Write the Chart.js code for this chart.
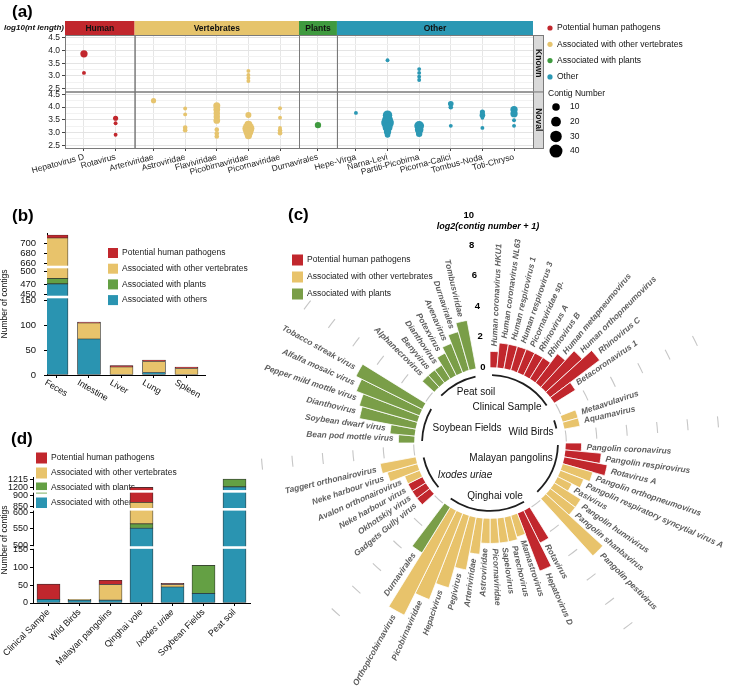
<!DOCTYPE html>
<html>
<head>
<meta charset="utf-8">
<title>Virome overview</title>
<script src="https://cdn.jsdelivr.net/npm/chart.js@4.4.1/dist/chart.umd.min.js"></script>
<style>
  html, body { margin: 0; padding: 0; background: #fff; }
  body { width: 732px; height: 689px; position: relative; overflow: hidden; font-family: "Liberation Sans", Arial, sans-serif; }
  canvas { position: absolute; }
  .tag { position: absolute; font-weight: bold; font-size: 17px; color: #000; line-height: 20px; }
</style>
</head>
<body>
<canvas id="chartA" width="732" height="182" style="left:0px;top:0px"></canvas>
<canvas id="chartB" width="260" height="228" style="left:0px;top:175px"></canvas>
<canvas id="chartC" width="482" height="509" style="left:250px;top:180px"></canvas>
<canvas id="chartD" width="270" height="254" style="left:0px;top:435px"></canvas>
<div class="tag" style="left:12px;top:2px">(a)</div>
<div class="tag" style="left:12px;top:206px">(b)</div>
<div class="tag" style="left:288px;top:205px">(c)</div>
<div class="tag" style="left:11px;top:429px">(d)</div>
<script>
Chart.defaults.font.family = '"Liberation Sans", Arial, sans-serif';
Chart.defaults.color = '#222';

const RED = '#c1272d', YELLOW = '#e8c36b', GREEN = '#64a044', BLUE = '#2a94b1';
const GREEN_C = '#7a9e48', YELLOW_A = '#e6c46e', GREEN_A = '#3f9a3f', BLUE_A = '#2b98b4';
const HOST = { human: RED, vert: YELLOW, plant: GREEN_C };
const legendNames = ['Potential human pathogens', 'Associated with other vertebrates', 'Associated with plants', 'Associated with others'];

// ---------- (a) contig length by taxon ----------
const aFacets = ['Human', 'Vertebrates', 'Plants', 'Other'];
const aFacetCategories = [
  ['Hepatovirus D', 'Rotavirus'],
  ['Arteriviridae', 'Astroviridae', 'Flaviviridae', 'Picobirnaviridae', 'Picornaviridae'],
  ['Durnavirales'],
  ['Hepe-Virga', 'Narna-Levi', 'Partiti-Picobirna', 'Picorna-Calici', 'Tombus-Noda', 'Toti-Chryso']
];
const aRows = ['Known', 'Noval'];
const aYTicks = [2.5, 2.75, 3, 3.25, 3.5, 3.75, 4, 4.25, 4.5];
const aSizeLegend = [10, 20, 30, 40];
const aColorLegend = ['Potential human pathogens', 'Associated with other vertebrates', 'Associated with plants', 'Other'];

// [category, log10(nt length), contig number]
const humanKnown = [['Hepatovirus D', 3.87, 9], ['Hepatovirus D', 3.12, 1]];
const humanNoval = [['Rotavirus', 3.56, 3], ['Rotavirus', 3.36, 1], ['Rotavirus', 2.91, 1]];
const vertKnown = [['Picobirnaviridae', 3.2, 1], ['Picobirnaviridae', 3.04, 1], ['Picobirnaviridae', 2.92, 1], ['Picobirnaviridae', 2.8, 1]];
const vertNoval = [
  ['Arteriviridae', 4.25, 3],
  ['Astroviridae', 3.94, 1], ['Astroviridae', 3.71, 1], ['Astroviridae', 3.19, 2], ['Astroviridae', 3.09, 2],
  ['Flaviviridae', 4.05, 8], ['Flaviviridae', 3.9, 7], ['Flaviviridae', 3.76, 6], ['Flaviviridae', 3.62, 6], ['Flaviviridae', 3.47, 7],
  ['Flaviviridae', 3.11, 2], ['Flaviviridae', 2.96, 2], ['Flaviviridae', 2.84, 2],
  ['Picobirnaviridae', 3.69, 5], ['Picobirnaviridae', 3.3, 12], ['Picobirnaviridae', 3.16, 33], ['Picobirnaviridae', 3.02, 20], ['Picobirnaviridae', 2.88, 9],
  ['Picornaviridae', 3.95, 1], ['Picornaviridae', 3.58, 1], ['Picornaviridae', 3.18, 1], ['Picornaviridae', 3.08, 2], ['Picornaviridae', 2.97, 2]
];
const plantNoval = [['Durnavirales', 3.29, 6]];
const otherKnown = [['Narna-Levi', 3.62, 1], ['Partiti-Picobirna', 3.27, 1], ['Partiti-Picobirna', 3.12, 1], ['Partiti-Picobirna', 2.97, 1], ['Partiti-Picobirna', 2.84, 1]];
const otherNoval = [
  ['Hepe-Virga', 3.77, 1],
  ['Narna-Levi', 3.68, 18], ['Narna-Levi', 3.5, 25], ['Narna-Levi', 3.37, 37], ['Narna-Levi', 3.2, 20], ['Narna-Levi', 3.03, 9], ['Narna-Levi', 2.9, 4],
  ['Partiti-Picobirna', 3.26, 20], ['Partiti-Picobirna', 3.11, 14], ['Partiti-Picobirna', 2.95, 6],
  ['Picorna-Calici', 4.13, 4], ['Picorna-Calici', 3.99, 2], ['Picorna-Calici', 3.26, 1],
  ['Tombus-Noda', 3.8, 3], ['Tombus-Noda', 3.68, 4], ['Tombus-Noda', 3.58, 1], ['Tombus-Noda', 3.18, 1],
  ['Toti-Chryso', 3.9, 9], ['Toti-Chryso', 3.74, 9], ['Toti-Chryso', 3.48, 1], ['Toti-Chryso', 3.26, 1]
];

// ---------- (b) contigs per tissue ----------
const bSites = ['Feces', 'Intestine', 'Liver', 'Lung', 'Spleen'];
const bOthers = [472, 72, 0, 5, 0];
const bPlants = [12, 0, 0, 0, 0];
const bVertebrates = [226, 32, 16, 22, 13];
const bHuman = [6, 2, 3, 3, 3];
const bTicks = [0, 50, 100, 150, 450, 470, 500, 660, 680, 700];

// ---------- (d) contigs per sample ----------
const dSites = ['Clinical Sample', 'Wild Birds', 'Malayan pangolins', 'Qinghai vole', 'Ixodes uriae', 'Soybean Fields', 'Peat soil'];
const dOthers = [10, 8, 8, 552, 45, 27, 1201];
const dPlants = [0, 0, 0, 13, 0, 79, 15];
const dVertebrates = [0, 2, 44, 303, 7, 0, 0];
const dHuman = [43, 0, 12, 34, 3, 0, 0];
const dTicks = [0, 50, 100, 150, 500, 550, 600, 850, 900, 1200, 1215];

// ---------- (c) log2(contig number + 1) per virus ----------
const cGroupNames = ['Clinical Sample', 'Wild Birds', 'Malayan pangolins', 'Qinghai vole', 'Ixodes uriae', 'Soybean Fields', 'Peat soil'];
const clinicalBars = [
  ['Human coronavirus HKU1', 1.0, 'human'], ['Human coronavirus NL63', 1.58, 'human'], ['Human respirovirus 1', 1.58, 'human'],
  ['Human respirovirus 3', 1.58, 'human'], ['Picornaviridae sp.', 1.58, 'human'], ['Rhinovirus A', 1.58, 'human'],
  ['Rhinovirus B', 1.58, 'human'], ['Human metapneumovirus', 2.32, 'human'], ['Human orthopneumovirus', 3.17, 'human'],
  ['Rhinovirus C', 4.0, 'human'], ['Betacoronavirus 1', 1.58, 'human']
];
const wildBirdBars = [['Metaavulavirus', 1.0, 'vert'], ['Aquamavirus', 1.0, 'vert']];
const pangolinBars = [
  ['Pangolin coronavirus', 1.0, 'human'], ['Pangolin respirovirus', 2.32, 'human'], ['Rotavirus A', 2.81, 'human'],
  ['Pangolin orthopneumovirus', 2.0, 'vert'], ['Pangolin respiratory syncytial virus A', 1.58, 'vert'], ['Pasivirus', 1.0, 'vert'],
  ['Pangolin hunnivirus', 2.0, 'vert'], ['Pangolin shanbavirus', 2.0, 'vert'], ['Pangolin pestivirus', 5.0, 'vert']
];
const qinghaiBars = [
  ['Rotavirus', 2.32, 'human'], ['Hepatovirus D', 4.0, 'human'], ['Mamastrovirus', 1.4, 'vert'], ['Parechovirus', 1.58, 'vert'],
  ['Sapelovirus', 1.58, 'vert'], ['Picornaviridae', 1.58, 'vert'], ['Astroviridae', 1.58, 'vert'], ['Arteriviridae', 2.32, 'vert'],
  ['Pegivirus', 3.46, 'vert'], ['Hepacivirus', 4.86, 'vert'], ['Picobirnaviridae', 6.0, 'vert'], ['Orthopicobirnavirus', 7.6, 'vert'],
  ['Durnavirales', 3.46, 'plant']
];
const ixodesBars = [
  ['Gadgets Gully virus', 1.0, 'human'], ['Okhotskiy virus', 1.0, 'human'], ['Neke harbour virus', 1.0, 'human'],
  ['Avalon orthonairovirus', 1.0, 'vert'], ['Neke harbour virus', 2.0, 'vert'], ['Taggert orthonairovirus', 2.32, 'vert']
];
const soybeanBars = [
  ['Bean pod mottle virus', 1.0, 'plant'], ['Soybean dwarf virus', 1.58, 'plant'], ['Dianthovirus', 3.7, 'plant'],
  ['Pepper mild mottle virus', 3.9, 'plant'], ['Alfalfa mosaic virus', 4.39, 'plant'], ['Tobacco streak virus', 4.81, 'plant']
];
const peatBars = [
  ['Alphanecrovirus', 1.0, 'plant'], ['Benyvirus', 1.0, 'plant'], ['Dianthovirus', 1.0, 'plant'], ['Potexvirus', 1.58, 'plant'],
  ['Avenavirus', 2.0, 'plant'], ['Durnavirales', 2.58, 'plant'], ['Tombusviridae', 3.17, 'plant']
];
const cTicks = [0, 2, 4, 6, 8, 10];

// ================= helpers =================
const sizeOf = n => 1.1 + 0.85 * Math.sqrt(n);

// x positions for the faceted panel (ggplot-like discrete expansion of 0.6)
const aX = {};
const aTickList = [];
const aBounds = [0];
{
  let cursor = 0;
  aFacetCategories.forEach(cats => {
    cats.forEach((c, i) => { aX[c] = cursor + 0.6 + i; aTickList.push(c); });
    cursor += cats.length + 0.2;
    aBounds.push(cursor);
  });
}

// maps a value to a compressed axis with breaks
function breakScale(segs, gaps) {
  return v => {
    let off = 0;
    for (let i = 0; i < segs.length; i++) {
      const [lo, hi, k] = segs[i];
      if (v <= hi || i === segs.length - 1) return off + (Math.max(v, lo) - lo) * k;
      off += (hi - lo) * k + gaps[i];
    }
  };
}

function stackedBars(series, colors, f, asXY) {
  const base = series[0].map(() => 0);
  return series.map((vals, si) => {
    const data = [];
    vals.forEach((v, i) => {
      const lo = base[i];
      base[i] += v;
      const y = v > 0 ? [f(lo), f(lo + v)] : null;
      if (asXY) { if (y) data.push({ x: i, y: y }); } else data.push(y);
    });
    return {
      label: legendNames[si], data, backgroundColor: colors[si], grouped: false,
      borderColor: '#2d2d2d', borderWidth: 0.7, borderSkipped: false, barThickness: 23
    };
  });
}

function drawSquareLegend(ctx, items, x, y0, dy, size, fontSize) {
  ctx.save();
  ctx.font = fontSize + 'px "Liberation Sans", Arial, sans-serif';
  ctx.textBaseline = 'middle';
  ctx.textAlign = 'left';
  items.forEach(([label, color], i) => {
    const y = y0 + i * dy;
    ctx.fillStyle = color;
    ctx.fillRect(x, y - size / 2, size, size);
    ctx.fillStyle = '#1a1a1a';
    ctx.fillText(label, x + size + 4, y);
  });
  ctx.restore();
}

function whiteBreaks(chart, segs, gaps, f) {
  const { ctx, chartArea: ca, scales: { y } } = chart;
  ctx.save();
  ctx.fillStyle = '#fff';
  for (let i = 0; i < gaps.length; i++) {
    const py = y.getPixelForValue(f(segs[i][1]) + gaps[i] / 2);
    ctx.fillRect(ca.left - 4, py - 1.3, ca.right - ca.left + 4, 2.6);
  }
  ctx.restore();
}

// ================= (a) =================
function bubbles(points, axis, color) {
  return {
    data: points.map(([c, y, n]) => ({ x: aX[c], y: y, n: n })),
    yAxisID: axis,
    backgroundColor: color,
    borderWidth: 0,
    hoverRadius: 0,
    radius: ctx => sizeOf(ctx.raw.n)
  };
}
const isMajor = v => Math.abs(v * 2 - Math.round(v * 2)) < 1e-6;
const rowAxis = () => ({
  type: 'linear', position: 'left', stack: 'rows', min: 2.39, max: 4.61,
  afterBuildTicks: s => { s.ticks = aYTicks.map(v => ({ value: v })); },
  afterFit: s => { s.width = 60; },
  border: { display: false },
  grid: {
    color: c => isMajor(c.tick.value) ? '#e4e4e4' : '#f2f2f2',
    tickLength: 3,
    tickColor: c => isMajor(c.tick.value) ? '#444' : 'rgba(0,0,0,0)'
  },
  ticks: { callback: v => isMajor(v) ? v.toFixed(1) : '', autoSkip: false, font: { size: 8.5 }, color: '#222', padding: 2 }
});

const stripColors = [RED, '#e6c46c', GREEN_A, BLUE_A];
const facetPlugin = {
  id: 'facetPlugin',
  afterDraw(chart) {
    const { ctx, chartArea: ca, scales: { x, yKnown, yNoval } } = chart;
    const rows = [yKnown, yNoval];
    ctx.save();
    // strips on top
    ctx.font = 'bold 8.5px "Liberation Sans", Arial, sans-serif';
    ctx.textAlign = 'center';
    ctx.textBaseline = 'middle';
    aFacets.forEach((f, i) => {
      const x0 = x.getPixelForValue(aBounds[i]), x1 = x.getPixelForValue(aBounds[i + 1]);
      ctx.fillStyle = stripColors[i];
      ctx.fillRect(x0, ca.top - 14, x1 - x0, 14);
      ctx.fillStyle = '#111';
      ctx.fillText(f, (x0 + x1) / 2, ca.top - 6.5);
    });
    // panel borders
    ctx.strokeStyle = '#7a7a7a';
    ctx.lineWidth = 1;
    rows.forEach(r => {
      aFacets.forEach((f, i) => {
        const x0 = x.getPixelForValue(aBounds[i]), x1 = x.getPixelForValue(aBounds[i + 1]);
        ctx.strokeRect(x0 + 0.5, r.top + 0.5, x1 - x0, r.bottom - r.top);
      });
    });
    // row strips on the right
    rows.forEach((r, i) => {
      ctx.fillStyle = '#d9d9d9';
      ctx.fillRect(ca.right, r.top, 10, r.bottom - r.top);
      ctx.strokeRect(ca.right + 0.5, r.top + 0.5, 10, r.bottom - r.top);
      ctx.save();
      ctx.translate(ca.right + 5.5, (r.top + r.bottom) / 2);
      ctx.rotate(Math.PI / 2);
      ctx.fillStyle = '#111';
      ctx.fillText(aRows[i], 0, 0);
      ctx.restore();
    });
    // axis title
    ctx.font = 'italic bold 8px "Liberation Sans", Arial, sans-serif';
    ctx.fillStyle = '#111';
    ctx.fillText('log10(nt length)', 34, 28);
    // legend
    const lx = ca.right + 17;
    ctx.textAlign = 'left';
    ctx.font = '8.5px "Liberation Sans", Arial, sans-serif';
    [RED, YELLOW_A, GREEN_A, BLUE_A].forEach((c, i) => {
      const ly = 28 + i * 16.3;
      ctx.fillStyle = c;
      ctx.beginPath(); ctx.arc(lx, ly, 2.6, 0, Math.PI * 2); ctx.fill();
      ctx.fillStyle = '#111';
      ctx.fillText(aColorLegend[i], lx + 7, ly);
    });
    ctx.fillText('Contig Number', lx - 2, 94);
    aSizeLegend.forEach((n, i) => {
      const ly = 107 + i * 14.7;
      ctx.fillStyle = '#000';
      ctx.beginPath(); ctx.arc(lx + 6, ly, sizeOf(n), 0, Math.PI * 2); ctx.fill();
      ctx.fillStyle = '#111';
      ctx.fillText(String(n), lx + 20, ly);
    });
    ctx.restore();
  }
};

new Chart(document.getElementById('chartA'), {
  type: 'bubble',
  data: {
    datasets: [
      bubbles(humanKnown, 'yKnown', RED), bubbles(humanNoval, 'yNoval', RED),
      bubbles(vertKnown, 'yKnown', YELLOW_A), bubbles(vertNoval, 'yNoval', YELLOW_A),
      bubbles(plantNoval, 'yNoval', GREEN_A),
      bubbles(otherKnown, 'yKnown', BLUE_A), bubbles(otherNoval, 'yNoval', BLUE_A)
    ]
  },
  options: {
    responsive: false, animation: false,
    layout: { padding: { left: 5, top: 35, right: 199, bottom: 0 } },
    plugins: { legend: { display: false }, tooltip: { enabled: false } },
    scales: {
      x: {
        type: 'linear', min: 0, max: aBounds[aBounds.length - 1],
        afterBuildTicks: s => { s.ticks = aTickList.map(c => ({ value: aX[c] })); },
        afterFit: s => { s.height = 34; },
        border: { display: false },
        grid: { color: '#e6e6e6', tickLength: 3, tickColor: '#444' },
        ticks: { callback: (v, i) => aTickList[i], autoSkip: false, minRotation: 15, maxRotation: 15, font: { size: 8.5 }, color: '#222', padding: 1 }
      },
      yNoval: rowAxis(),
      yKnown: rowAxis()
    }
  },
  plugins: [facetPlugin]
});

// ================= (b) =================
const bSegs = [[0, 150, 1], [450, 500, 0.92], [660, 720, 1]];
const bGaps = [12, 16];
const fb = breakScale(bSegs, bGaps);

new Chart(document.getElementById('chartB'), {
  type: 'bar',
  data: { datasets: stackedBars([bOthers, bPlants, bVertebrates, bHuman], [BLUE, GREEN, YELLOW, RED], fb, true) },
  options: {
    responsive: false, animation: false,
    layout: { padding: { left: 0, top: 58, right: 55, bottom: 0 } },
    plugins: { legend: { display: false }, tooltip: { enabled: false } },
    scales: {
      x: {
        type: 'linear', min: -0.292, max: 4.57, offset: false,
        afterBuildTicks: s => { s.ticks = bSites.map((c, i) => ({ value: i })); },
        afterFit: s => { s.height = 28; },
        border: { display: true, color: '#000', width: 1 },
        grid: { display: true, drawOnChartArea: false, tickLength: 3, color: '#000', offset: false },
        ticks: { display: false }
      },
      y: {
        min: 0, max: fb(720),
        afterBuildTicks: s => { s.ticks = bTicks.map(v => ({ value: fb(v) })); },
        afterFit: s => { s.width = 47; },
        border: { display: true, color: '#000', width: 1 },
        grid: { display: true, drawOnChartArea: false, tickLength: 3, color: '#000' },
        ticks: { callback: (v, i) => bTicks[i], autoSkip: false, font: { size: 9.5 }, color: '#111', padding: 8 },
        title: { display: true, text: 'Number of contigs', font: { size: 8.5 }, color: '#111', padding: 0 }
      }
    }
  },
  plugins: [{
    id: 'bDecor',
    afterDraw(chart) {
      whiteBreaks(chart, bSegs, bGaps, fb);
      const { ctx, chartArea: ca, scales: { x } } = chart;
      ctx.save();
      ctx.font = '9px "Liberation Sans", Arial, sans-serif';
      ctx.fillStyle = '#111';
      ctx.textAlign = 'left';
      ctx.textBaseline = 'middle';
      bSites.forEach((s, i) => {
        ctx.save();
        ctx.translate(x.getPixelForValue(i) - 11, ca.bottom + 7);
        ctx.rotate(Math.PI / 6);
        ctx.fillText(s, 0, 0);
        ctx.restore();
      });
      ctx.restore();
      drawSquareLegend(ctx, [[legendNames[0], RED], [legendNames[1], YELLOW], [legendNames[2], GREEN], [legendNames[3], BLUE]], 108, 78, 15.7, 10, 8.5);
    }
  }]
});

// ================= (d) =================
const dSegs = [[0, 150, 1], [500, 600, 0.93], [850, 900, 0.62], [1200, 1220, 1.47]];
const dGaps = [12, 17, 22];
const fd = breakScale(dSegs, dGaps);

new Chart(document.getElementById('chartD'), {
  type: 'bar',
  data: { labels: dSites, datasets: stackedBars([dOthers, dPlants, dVertebrates, dHuman], [BLUE, GREEN, YELLOW, RED], fd, false) },
  options: {
    responsive: false, animation: false,
    layout: { padding: { left: 0, top: 42, right: 20, bottom: 0 } },
    plugins: { legend: { display: false }, tooltip: { enabled: false } },
    scales: {
      x: {
        afterFit: s => { s.height = 86; },
        border: { display: true, color: '#000', width: 1 },
        grid: { display: true, drawOnChartArea: false, tickLength: 3, color: '#000', offset: false },
        ticks: {
          autoSkip: false, minRotation: 45, maxRotation: 45, color: '#111', padding: 1,
          font: c => ({ size: 9, style: c.index === 4 ? 'italic' : 'normal' })
        }
      },
      y: {
        min: 0, max: fd(1220),
        afterBuildTicks: s => { s.ticks = dTicks.map(v => ({ value: fd(v) })); },
        afterFit: s => { s.width = 33; },
        border: { display: true, color: '#000', width: 1 },
        grid: { display: true, drawOnChartArea: false, tickLength: 3, color: '#000' },
        ticks: { callback: (v, i) => dTicks[i], autoSkip: false, font: { size: 9 }, color: '#111', padding: 2 },
        title: { display: true, text: 'Number of contigs', font: { size: 8.5 }, color: '#111', padding: 0 }
      }
    }
  },
  plugins: [{
    id: 'dDecor',
    beforeDatasetsDraw(chart) {
      drawSquareLegend(chart.ctx, [[legendNames[0], RED], [legendNames[1], YELLOW], [legendNames[2], GREEN], [legendNames[3], BLUE]], 36, 23, 15, 11, 8.5);
    },
    afterDraw(chart) {
      whiteBreaks(chart, dSegs, dGaps, fd);
    }
  }]
});

// ================= (c) =================
const cGroups = [clinicalBars, wildBirdBars, pangolinBars, qinghaiBars, ixodesBars, soybeanBars, peatBars];
const GAP = 2;
const slots = [];
cGroups.forEach((g, gi) => {
  g.forEach(b => slots.push({ g: gi, bar: b }));
  for (let k = 0; k < GAP; k++) slots.push({ g: gi, gap: true });
});
const cGroupLabelPos = [[17, -36], [41, -11], [21, 15], [5, 53], [-25, 32], [-23, -15], [-14, -51]];

const circularPlugin = {
  id: 'circular',
  afterDatasetsDraw(chart) {
    const { ctx, scales: { r } } = chart;
    const cx = r.xCenter, cy = r.yCenter;
    const rad = v => r.getDistanceFromCenterForValue(v);
    const arcs = chart.getDatasetMeta(0).data;
    ctx.save();
    // hole in the middle
    ctx.fillStyle = '#fff';
    ctx.beginPath(); ctx.arc(cx, cy, rad(0) - 0.5, 0, Math.PI * 2); ctx.fill();

    let idx = 0;
    cGroups.forEach((g, gi) => {
      const a0 = arcs[idx].startAngle, a1 = arcs[idx + g.length - 1].endAngle;
      ctx.strokeStyle = '#1e1e1e';
      ctx.lineWidth = 1.8;
      ctx.beginPath(); ctx.arc(cx, cy, rad(-0.55), a0 + 0.03, a1 - 0.03); ctx.stroke();
      const gapMid = arcs[idx + g.length].endAngle;
      idx += g.length + GAP;
      if (gi < cGroups.length - 1) {
        ctx.strokeStyle = '#c6c6c6';
        ctx.lineWidth = 1.1;
        cTicks.forEach(v => {
          const rr = rad(v), h = 5.5 / rr;
          ctx.beginPath(); ctx.arc(cx, cy, rr, gapMid - h, gapMid + h); ctx.stroke();
        });
      } else {
        ctx.fillStyle = '#000';
        ctx.font = 'bold 9.5px "Liberation Sans", Arial, sans-serif';
        ctx.textAlign = 'center';
        ctx.textBaseline = 'middle';
        cTicks.forEach(v => {
          const rr = rad(v);
          ctx.fillText(String(v), cx + Math.cos(gapMid) * rr, cy + Math.sin(gapMid) * rr);
        });
        ctx.font = 'italic bold 9px "Liberation Sans", Arial, sans-serif';
        ctx.fillText('log2(contig number + 1)', cx - 2, cy - rad(9.15));
      }
    });

    // group names
    ctx.fillStyle = '#111';
    ctx.textAlign = 'center';
    ctx.textBaseline = 'middle';
    cGroupNames.forEach((n, i) => {
      ctx.font = (i === 4 ? 'italic ' : '') + '10px "Liberation Sans", Arial, sans-serif';
      ctx.fillText(n, cx + cGroupLabelPos[i][0], cy + cGroupLabelPos[i][1]);
    });

    // bar labels
    ctx.fillStyle = '#5e5e5e';
    ctx.font = 'italic bold 8.3px "Liberation Sans", Arial, sans-serif';
    ctx.textBaseline = 'middle';
    slots.forEach((s, i) => {
      if (s.gap) return;
      const a = (arcs[i].startAngle + arcs[i].endAngle) / 2;
      const rr = rad(s.bar[1]) + 5;
      const theta = a + Math.PI / 2;
      ctx.save();
      ctx.translate(cx + Math.cos(a) * rr, cy + Math.sin(a) * rr);
      if (theta < Math.PI) { ctx.rotate(a); ctx.textAlign = 'left'; }
      else { ctx.rotate(a + Math.PI); ctx.textAlign = 'right'; }
      ctx.fillText(s.bar[0], 0, 0);
      ctx.restore();
    });
    ctx.restore();
  },
  afterDraw(chart) {
    drawSquareLegend(chart.ctx, [[legendNames[0], RED], [legendNames[1], YELLOW], [legendNames[2], GREEN_C]], 42, 80, 17, 11, 8.5);
  }
};

new Chart(document.getElementById('chartC'), {
  type: 'polarArea',
  data: {
    labels: slots.map(s => s.gap ? '' : s.bar[0]),
    datasets: [{
      data: slots.map(s => s.gap ? null : s.bar[1]),
      backgroundColor: slots.map(s => s.gap ? 'rgba(0,0,0,0)' : HOST[s.bar[2]]),
      borderColor: '#fff',
      borderWidth: 0.8,
      angle: 360 / slots.length
    }]
  },
  options: {
    responsive: false, animation: false,
    layout: { padding: { left: 11, right: 13, top: 34, bottom: 17 } },
    plugins: { legend: { display: false }, tooltip: { enabled: false } },
    scales: {
      r: {
        min: -5, max: 10, startAngle: 0,
        ticks: { display: false },
        grid: { display: false },
        angleLines: { display: false },
        pointLabels: { display: false }
      }
    }
  },
  plugins: [circularPlugin]
});
</script>
</body>
</html>
